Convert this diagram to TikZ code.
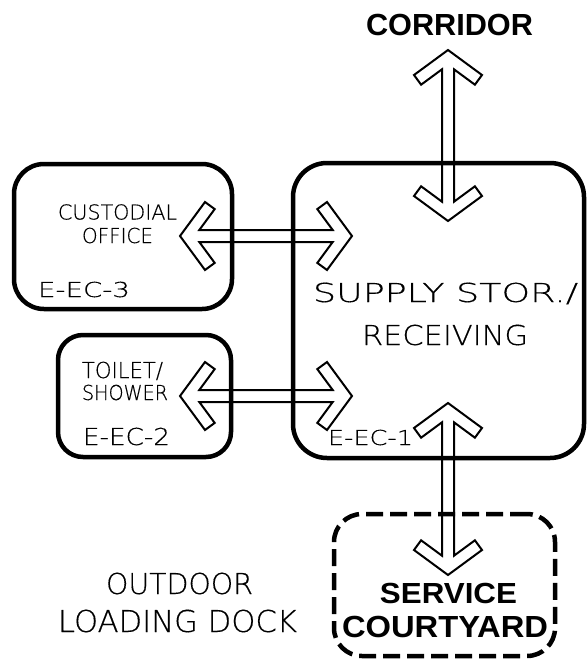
\documentclass[tikz,border=0pt]{standalone}
\usepackage{fontspec}
\usepackage{graphicx}
\usetikzlibrary{calc}

% thin monoline lettering for room names, bold lettering for exterior labels
\newfontfamily\cadfont{DejaVu Sans ExtraLight}[FakeBold=0.35]
\newfontfamily\titlefont{Liberation Sans}

% width, cap height, text: the box is given the height of a capital E,
% so that the capitals themselves get the stated height
\newcommand\capbox[1]{\raisebox{0pt}[\fontcharht\font`E][0pt]{#1}}
\newcommand\cadtext[3]{\resizebox{#1pt}{#2pt}{\cadfont\fontsize{20}{20}\selectfont\capbox{#3}}}
\newcommand\titletext[3]{\resizebox{#1pt}{#2pt}{\titlefont\bfseries\fontsize{28}{28}\selectfont\capbox{#3}}}

% hollow double-headed flow arrow between two named points
\newcommand\flowarrow[2]{%
  \draw[flowline] let \p1=(#1), \p2=(#2),
      \n1={atan2(\y2-\y1,\x2-\x1)}, \n2={veclen(\x2-\x1,\y2-\y1)} in
    [shift={(\p1)}, rotate=\n1]
    (0,0) -- (25,34) -- (34.7,26.9) -- (19.3,6) -- ({\n2-19.3},6)
    -- ({\n2-34.7},26.9) -- ({\n2-25},34) -- (\n2,0) -- ({\n2-25},-34)
    -- ({\n2-34.7},-26.9) -- ({\n2-19.3},-6) -- (19.3,-6)
    -- (34.7,-26.9) -- (25,-34) -- cycle;}

\tikzset{
  roombox/.style={draw, line width=4.5pt, inner sep=0pt},
  courtbox/.style={roombox, dash pattern=on 17pt off 7pt},
  flowline/.style={line width=2pt, line join=miter},
  lbl/.style={inner sep=0pt, outer sep=0pt, anchor=base},
  lblw/.style={lbl, anchor=base west},
}

\begin{document}
\begin{tikzpicture}[x=1pt, y=-1pt]
  \useasboundingbox (0,0) rectangle (587,664);
  \fill[white] (0,0) rectangle (587,664);

  % rooms
  \node[roombox, rounded corners=30pt, minimum width=218pt, minimum height=145pt] (custodial) at (123,236.5) {};
  \node[roombox, rounded corners=25pt, minimum width=173pt, minimum height=122pt] (toilet) at (144.5,396) {};
  \node[roombox, rounded corners=34pt, minimum width=291pt, minimum height=295pt] (supply) at (438.5,310.5) {};
  \node[courtbox, rounded corners=28pt, minimum width=221pt, minimum height=142pt] (court) at (444.5,585) {};

  % arrow end points
  \coordinate (corA) at (448,50);
  \coordinate (corB) at (448,221);
  \coordinate (cusA) at (180,236);
  \coordinate (cusB) at (352,236);
  \coordinate (toiA) at (180,396);
  \coordinate (toiB) at (352,396);
  \coordinate (srvA) at (448,403);
  \coordinate (srvB) at (448,575);

  \flowarrow{corA}{corB}
  \flowarrow{cusA}{cusB}
  \flowarrow{toiA}{toiB}
  \flowarrow{srvA}{srvB}

  % labels
  \node[lbl] (corridor) at (449.5,35) {\titletext{167}{21}{CORRIDOR}};
  \node[lbl] (service) at (448.5,603) {\titletext{137}{20}{SERVICE}};
  \node[lbl] (courtyard) at (445,637) {\titletext{206}{21}{COURTYARD}};

  \node[lbl] (cus1) at (117.5,219.5) {\cadtext{119}{15}{CUSTODIAL}};
  \node[lbl] (cus2) at (117.5,243) {\cadtext{71}{15}{OFFICE}};
  \node[lblw] (cus3) at (38,297) {\cadtext{92}{15}{E-EC-3}};

  \node[lblw] (toi1) at (82,378) {\cadtext{81}{16}{TOILET/}};
  \node[lblw] (toi2) at (82,400) {\cadtext{86}{15}{SHOWER}};
  \node[lblw] (toi3) at (83,445) {\cadtext{87}{17}{E-EC-2}};

  \node[lbl] (sup1) at (445.5,302) {\cadtext{265}{19}{SUPPLY STOR./}};
  \node[lbl] (sup2) at (445,345) {\cadtext{166}{20}{RECEIVING}};
  \node[lblw] (sup3) at (328,445) {\cadtext{85}{15}{E-EC-1}};

  \node[lbl] (dock1) at (179.5,594) {\cadtext{147}{21}{OUTDOOR}};
  \node[lbl] (dock2) at (177.5,632) {\cadtext{239}{22}{LOADING DOCK}};
\end{tikzpicture}
\end{document}
